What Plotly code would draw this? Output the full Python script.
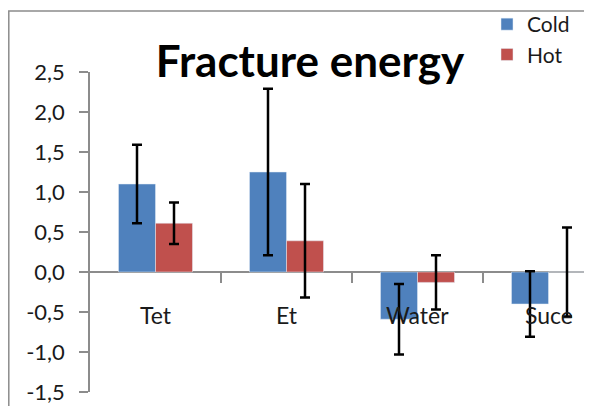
import plotly.graph_objects as go

categories = ["Tet", "Et", "Water", "Suce"]
cold_values = [1.10, 1.25, -0.59, -0.40]
cold_errors = [0.49, 1.04, 0.44, 0.41]
hot_values = [0.61, 0.39, -0.13, 0.0]
hot_errors = [0.26, 0.71, 0.34, 0.555]
y_ticks = [-1.5, -1.0, -0.5, 0.0, 0.5, 1.0, 1.5, 2.0, 2.5]
y_tick_labels = ["-1,5", "-1,0", "-0,5", "0,0", "0,5", "1,0", "1,5", "2,0", "2,5"]

FONT = "Lato"
GRAY = "#8c8c8c"
# the page body has an 8px margin, so the figure is laid out 8px smaller
W, H = 584, 398
L, T, B = 82, 64, 14
PW, PH = W - L, H - T - B
x_pos = list(range(len(categories)))

fig = go.Figure()
fig.add_trace(go.Bar(
    x=x_pos, y=cold_values, name="Cold", marker_color="#4F81BD",
    error_y=dict(type="data", array=cold_errors, color="black", thickness=2.5, width=5),
))
fig.add_trace(go.Bar(
    x=x_pos, y=hot_values, name="Hot", marker_color="#C0504D",
    error_y=dict(type="data", array=hot_errors, color="black", thickness=2.5, width=5),
))

# category labels sit just under the zero line, like Excel does
for i, cat in enumerate(categories):
    fig.add_annotation(x=i, y=-0.54, xref="x", yref="y", text=cat, showarrow=False,
                       font=dict(family=FONT, size=23, color="#1a1a1a"))

# chart border (cut off on the right and bottom)
fig.add_shape(type="rect", xref="paper", yref="paper",
              x0=(0.8 - L) / PW, x1=1.2, y0=-0.2, y1=(PH + T - 3) / PH,
              line=dict(color=GRAY, width=1.5), layer="below")

fig.update_layout(
    width=W, height=H,
    margin=dict(l=L, r=0, t=T, b=B, autoexpand=False),
    paper_bgcolor="white", plot_bgcolor="white",
    barmode="group", bargap=0.435, bargroupgap=0,
    showlegend=True,
    title=dict(text="<b>Fracture energy</b>", x=(302 - L) / PW, xref="paper",
               xanchor="center", y=1 - 54 / H, yanchor="middle",
               font=dict(family=FONT, size=44, color="black")),
    legend=dict(x=(479 - L) / PW, y=(PH + T + 4) / PH, xanchor="left", yanchor="top",
                bgcolor="rgba(0,0,0,0)", font=dict(family=FONT, size=21, color="#1a1a1a"),
                tracegroupgap=0, itemwidth=30),
    xaxis=dict(range=[-0.5, -0.5 + PW / 131], showgrid=False, zeroline=False,
               showline=False, anchor="free", position=0.375,
               tickmode="array", tickvals=[0.5, 1.5, 2.5], ticks="outside",
               ticklen=10, tickwidth=1.5, tickcolor=GRAY, showticklabels=False),
    yaxis=dict(range=[-1.5, 2.5], showgrid=False, zeroline=True, zerolinecolor=GRAY,
               zerolinewidth=1.5, showline=True, linecolor=GRAY, linewidth=1.5,
               tickmode="array", tickvals=y_ticks, ticktext=y_tick_labels,
               ticks="outside", ticklen=9, tickwidth=1.5, tickcolor=GRAY,
               ticklabelstandoff=10,
               tickfont=dict(family=FONT, size=22, color="#1a1a1a")),
)

fig.write_html("out.html")
